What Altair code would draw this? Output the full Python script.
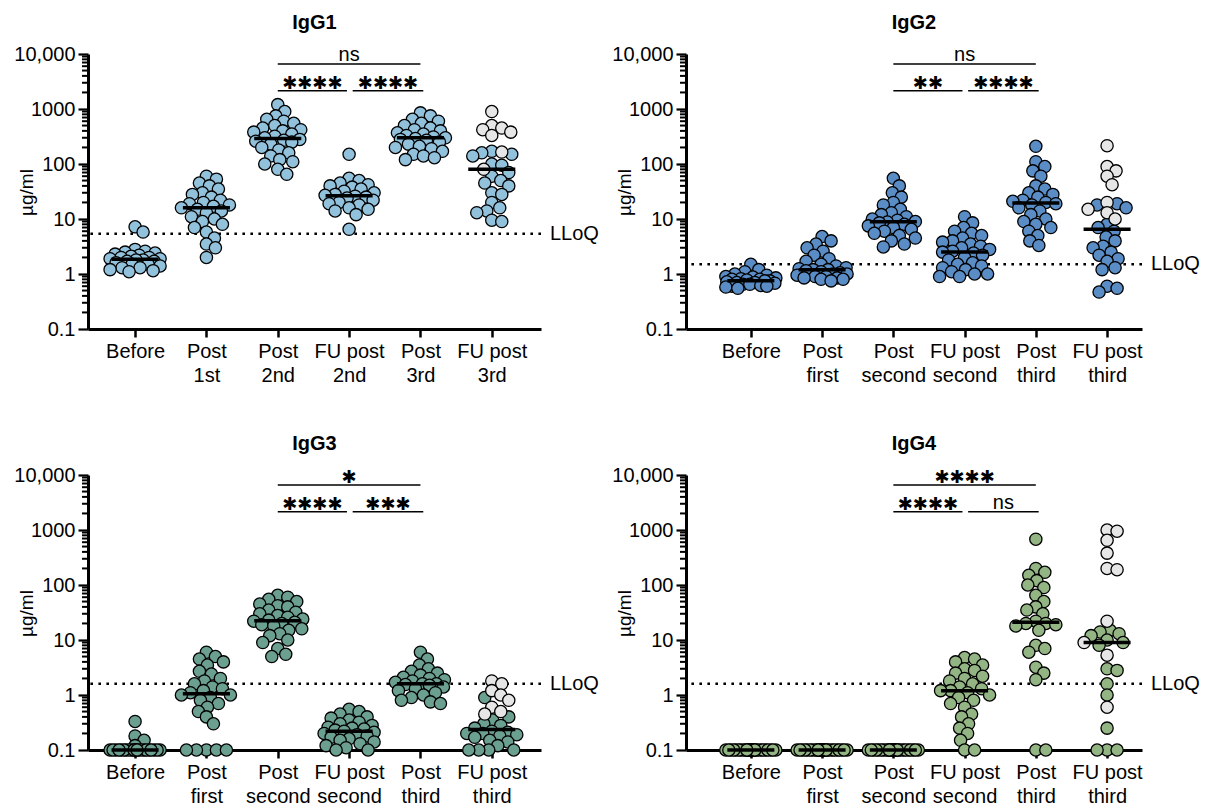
import altair as alt
import numpy as np
import pandas as pd

FONT = "Liberation Sans"

labels_1 = ["Before", "Post|1st", "Post|2nd", "FU post|2nd", "Post|3rd", "FU post|3rd"]
labels_2 = ["Before", "Post|first", "Post|second", "FU post|second", "Post|third", "FU post|third"]

# ---------------- IgG1 ----------------
igg1_before = [7.2, 5.8, 2.8, 2.6, 2.5, 2.4, 2.3, 2.2, 2.1, 2.0, 2.0, 1.9, 1.9, 1.8, 1.8,
               1.7, 1.7, 1.6, 1.5, 1.5, 1.4, 1.3, 1.3, 1.2, 1.15, 1.1]
igg1_post1 = [60, 53, 45, 40, 35, 30, 28, 25, 22, 20, 19, 18, 17, 16, 15, 14, 13, 11, 10,
              9, 8, 7, 5.8, 4.5, 3.5, 3.0, 2.0]
igg1_post2 = [1200, 900, 750, 650, 600, 550, 500, 450, 420, 400, 380, 350, 320, 300, 280,
              270, 260, 250, 230, 200, 180, 160, 140, 120, 110, 100, 80, 65]
igg1_fu2 = [150, 55, 50, 45, 42, 40, 38, 35, 32, 30, 28, 27, 26, 25, 24, 22, 20, 19, 18,
            16, 15, 14, 12, 6.5]
igg1_post3 = [850, 750, 650, 600, 550, 500, 450, 420, 400, 370, 350, 330, 310, 300, 290,
              280, 270, 250, 230, 210, 200, 190, 170, 150, 140, 130, 120]
igg1_fu3 = [170, 160, 150, 140, 100, 95, 70, 60, 50, 45, 40, 30, 28, 20, 16, 14, 13, 9.5, 9]
igg1_fu3_grey = [900, 500, 450, 420, 380, 330, 165, 80]

# ---------------- IgG2 ----------------
igg2_before = [1.5, 1.2, 1.1, 1.0, 0.95, 0.9, 0.88, 0.85, 0.82, 0.8, 0.8, 0.78, 0.75, 0.75,
               0.72, 0.7, 0.7, 0.68, 0.65, 0.65, 0.62, 0.6, 0.6, 0.58, 0.55]
igg2_post1 = [4.8, 4.0, 3.5, 3.0, 2.6, 2.2, 1.9, 1.7, 1.5, 1.4, 1.3, 1.25, 1.2, 1.2, 1.15,
              1.1, 1.05, 1.0, 1.0, 0.95, 0.9, 0.9, 0.85, 0.85, 0.8, 0.8, 0.75]
igg2_post2 = [55, 40, 30, 25, 20, 18, 15, 13, 12, 11, 10, 9.5, 9, 8.8, 8.5, 8, 7.5, 7, 6.5,
              6, 5.5, 5, 4.5, 4, 3.5, 3.1]
igg2_fu2 = [11, 8.5, 7, 6, 5.5, 5, 4.5, 4, 3.8, 3.5, 3.2, 3, 2.8, 2.6, 2.5, 2.4, 2.2, 2.0,
            1.8, 1.6, 1.5, 1.4, 1.3, 1.2, 1.1, 1.0, 1.0, 0.9, 0.9]
igg2_post3 = [210, 110, 90, 75, 60, 40, 35, 30, 28, 25, 22, 21, 20, 19, 18, 16, 14, 12, 10,
              9, 8, 7, 6, 5, 4, 3.3]
igg2_fu3 = [19, 18, 16, 8, 7, 6, 4.7, 4, 3.2, 3, 2.5, 2.2, 1.9, 1.7, 1.3, 1.2, 0.6, 0.55, 0.47]
igg2_fu3_grey = [215, 90, 75, 60, 42, 20, 15, 13, 10]

# ---------------- IgG3 ----------------
igg3_before = [0.33, 0.18, 0.15, 0.12] + [0.1] * 22
igg3_post1 = [6, 5, 4.5, 4, 3.5, 2.7, 2.4, 2.0, 1.8, 1.6, 1.4, 1.3, 1.2, 1.1, 1.0, 1.0, 0.9,
              0.8, 0.7, 0.6, 0.5, 0.4, 0.3, 0.1, 0.1, 0.1, 0.1, 0.1]
igg3_post2 = [65, 60, 55, 50, 45, 42, 40, 35, 32, 30, 28, 26, 24, 23, 22, 21, 20, 19, 18, 16,
              15, 13, 12, 10, 9, 7, 5.5, 5]
igg3_fu2 = [0.55, 0.5, 0.45, 0.4, 0.38, 0.35, 0.32, 0.3, 0.28, 0.26, 0.25, 0.24, 0.23, 0.22,
            0.21, 0.2, 0.19, 0.18, 0.17, 0.16, 0.15, 0.14, 0.13, 0.12, 0.11, 0.1, 0.1]
igg3_post3 = [6.0, 4.5, 3.5, 3.0, 2.7, 2.5, 2.3, 2.1, 2.0, 1.9, 1.8, 1.7, 1.6, 1.6, 1.55, 1.5,
              1.4, 1.3, 1.2, 1.1, 1.0, 0.9, 0.8, 0.75, 0.7]
igg3_fu3 = [0.9, 0.4, 0.35, 0.3, 0.28, 0.25, 0.22, 0.21, 0.2, 0.2, 0.19, 0.18, 0.17, 0.15,
            0.14, 0.12, 0.1, 0.1, 0.1, 0.1]
igg3_fu3_grey = [1.8, 1.6, 1.2, 1.0, 0.8, 0.6, 0.5, 0.45]

# ---------------- IgG4 ----------------
igg4_before = [0.1] * 27
igg4_post1 = [0.1] * 27
igg4_post2 = [0.1] * 27
igg4_fu2 = [4.8, 4.5, 4.0, 3.5, 3.0, 2.8, 2.5, 2.2, 2.0, 1.8, 1.6, 1.4, 1.3, 1.2, 1.2, 1.1,
            1.0, 0.9, 0.8, 0.7, 0.6, 0.45, 0.4, 0.3, 0.25, 0.2, 0.15, 0.1, 0.1]
igg4_post3 = [680, 200, 170, 150, 120, 100, 90, 65, 50, 40, 35, 30, 22, 20, 20, 19, 18, 15,
              8, 7, 6, 3.2, 2.5, 1.9, 0.1, 0.1]
igg4_fu3 = [15, 14, 13, 12, 10, 9, 8, 3, 2.8, 1.6, 1.0, 0.25, 0.1, 0.1, 0.1]
igg4_fu3_grey = [1000, 950, 650, 380, 200, 190, 22, 9, 5.3, 0.6]

lloq_values = {"IgG1": 5.4, "IgG2": 1.5, "IgG3": 1.6, "IgG4": 1.6}
colors = {"IgG1": "#92c1dc", "IgG2": "#5a8dc5", "IgG3": "#6b9f8f", "IgG4": "#93b584"}
grey_fill = "#e6e6e6"

# significance brackets: label, from category, to category, height (ug/ml)
br_label = {
    "IgG1": ["ns", "****", "****"],
    "IgG2": ["ns", "**", "****"],
    "IgG3": ["*", "****", "***"],
    "IgG4": ["****", "****", "ns"],
}
br_x1 = [2.0, 2.0, 3.05]
br_x2 = [4.0, 2.97, 4.04]
br_y = [6600, 2150, 2150]

major_ticks = [0.1, 1, 10, 100, 1000, 10000]
minor_ticks = [m * 10.0 ** e for m in range(2, 10) for e in range(-1, 4)]

H = 275
PX_PER_DECADE = H / 5.0
MINOR_LEN = 6.0  # px
# left panels (IgG1, IgG3) and right panels (IgG2, IgG4) have slightly different x padding
LAYOUT_L = dict(W=453, xmin=-0.66, xmax=5.69)
LAYOUT_R = dict(W=456, xmin=-0.91, xmax=5.49)


def swarm(vals, px_per_unit, d=9.5, half=25.0):
    y = -np.log10(np.asarray(vals, float)) * PX_PER_DECADE
    order = np.argsort(y, kind="stable")
    cands = np.arange(-half, half + 0.01, 1.0)
    cands = cands[np.argsort(np.abs(cands) - 0.001 * np.sign(cands), kind="stable")]
    px, py = [], []
    off = np.zeros(len(y))
    for i in order:
        best, bestc, bestd = None, 0.0, -1.0
        ax, ay = np.array(px), np.array(py)
        for c in cands:
            dist = np.inf if len(ax) == 0 else np.min(np.hypot(ax - c, ay - y[i]))
            if dist >= d:
                best = c
                break
            if dist > bestd:
                bestd, bestc = dist, c
        if best is None:
            best = bestc
        off[i] = best
        px.append(best)
        py.append(y[i])
    return off / px_per_unit


def label_expr(labels):
    arr = "[" + ",".join("'" + l + "'" for l in labels) + "]"
    return f"split({arr}[round(datum.value)], '|')"


one_row = pd.DataFrame({"k": [0]})


def panel(name, labels, groups, grey_last, lay):
    W, XMIN, XMAX = lay["W"], lay["xmin"], lay["xmax"]
    ppu = W / (XMAX - XMIN)
    rows = []
    for gi, vals in enumerate(groups):
        allv = list(vals)
        flags = [False] * len(vals)
        if gi == 5:
            allv += grey_last
            flags += [True] * len(grey_last)
        offs = swarm(allv, ppu)
        for v, f, o in zip(allv, flags, offs):
            rows.append({"idx": gi, "x": gi + o, "value": v, "grey": f})
    df = pd.DataFrame(rows)

    xs = alt.Scale(domain=[XMIN, XMAX], nice=False, zero=False)
    ys = alt.Scale(type="log", domain=[0.1, 10000], nice=False)

    xaxis = alt.Axis(values=[0, 1, 2, 3, 4, 5], labelExpr=label_expr(labels), title=None,
                     grid=False, domainWidth=3, domainColor="black", tickColor="black",
                     tickWidth=2.5, tickSize=8, labelFontSize=20, labelFont=FONT,
                     labelColor="black", labelPadding=4, labelLineHeight=24,
                     labelFlush=False, labelOverlap=False, tickCount=50)
    ylab = ("datum.value >= 9999 ? '10,000' : datum.value >= 999 ? '1000' : "
            "datum.value >= 99 ? '100' : datum.value >= 9.9 ? '10' : "
            "datum.value >= 0.99 ? '1' : '0.1'")
    yaxis = alt.Axis(values=major_ticks, labelExpr=ylab, title="µg/ml", orient="left",
                     grid=False, domainWidth=3, domainColor="black", tickColor="black",
                     tickWidth=2.2, tickSize=10, tickCount=50,
                     labelFontSize=20, labelFont=FONT, labelColor="black", labelPadding=3,
                     titleFont=FONT, titleFontSize=19, titleFontWeight="normal",
                     titleColor="black", titleX=-62, titleY=138, titleAngle=270,
                     titleBaseline="middle", titleAlign="center",
                     labelOverlap=False, labelFlush=False)

    # minor log ticks on the y axis: short horizontal rules just left of the axis line
    minor_df = pd.DataFrame({"mt": minor_ticks, "xa": XMIN, "xb": XMIN - MINOR_LEN / ppu})
    minor = alt.Chart(minor_df).mark_rule(color="black", strokeWidth=2, opacity=1).encode(
        x=alt.X("xa:Q", scale=xs, axis=xaxis),
        x2="xb:Q",
        y=alt.Y("mt:Q", scale=ys, axis=yaxis),
    )

    pts = alt.Chart(df).mark_circle(size=150, stroke="black", strokeWidth=1.3,
                                    opacity=1).encode(
        x=alt.X("x:Q", scale=xs, axis=xaxis),
        y=alt.Y("value:Q", scale=ys, axis=yaxis),
        color=alt.condition("datum.grey", alt.value(grey_fill), alt.value(colors[name])),
        order=alt.Order("grey:N"),
    )

    med = alt.Chart(df).transform_aggregate(
        med="median(value)", groupby=["idx"]
    ).transform_calculate(
        xa="datum.idx - 0.33", xb="datum.idx + 0.33"
    ).mark_rule(color="black", strokeWidth=3.5).encode(
        x=alt.X("xa:Q", scale=xs, axis=xaxis),
        x2="xb:Q",
        y=alt.Y("med:Q", scale=ys, axis=yaxis),
    )

    lloq = lloq_values[name]
    lrule = alt.Chart(one_row).mark_rule(color="black", strokeWidth=2.6,
                                         strokeDash=[2.6, 5.4]).encode(
        y=alt.datum(lloq, scale=ys, axis=yaxis)
    )
    ltext = alt.Chart(one_row).mark_text(text="LLoQ", align="left", baseline="middle", dx=9,
                                         font=FONT, fontSize=20, color="black").encode(
        x=alt.datum(XMAX, scale=xs, axis=xaxis),
        y=alt.datum(lloq, scale=ys, axis=yaxis),
    )

    bdf = pd.DataFrame({"label": br_label[name], "x1": br_x1, "x2": br_x2, "y": br_y})
    bdf["xm"] = (bdf["x1"] + bdf["x2"]) / 2
    bdf["stars"] = bdf["label"].str.replace("*", "\u2731", regex=False)
    brules = alt.Chart(bdf).mark_rule(color="black", strokeWidth=1.6).encode(
        x=alt.X("x1:Q", scale=xs, axis=xaxis), x2="x2:Q",
        y=alt.Y("y:Q", scale=ys, axis=yaxis),
    )
    bstars = alt.Chart(bdf).transform_filter("datum.label != 'ns'").mark_text(
        baseline="alphabetic", dy=-2, font="DejaVu Sans", fontSize=18, color="black"
    ).encode(
        x=alt.X("xm:Q", scale=xs, axis=xaxis), y=alt.Y("y:Q", scale=ys, axis=yaxis),
        text="stars:N",
    )
    bns = alt.Chart(bdf).transform_filter("datum.label == 'ns'").mark_text(
        baseline="alphabetic", dy=-3, font=FONT, fontSize=20, color="black"
    ).encode(
        x=alt.X("xm:Q", scale=xs, axis=xaxis), y=alt.Y("y:Q", scale=ys, axis=yaxis),
        text="label:N",
    )

    return alt.layer(lrule, minor, pts, med, ltext, brules, bstars, bns).properties(
        width=W, height=H,
        title=alt.TitleParams(name, font=FONT, fontSize=20, fontWeight="bold",
                              color="black", offset=11),
    )


p1 = panel("IgG1", labels_1, [igg1_before, igg1_post1, igg1_post2, igg1_fu2, igg1_post3, igg1_fu3],
           igg1_fu3_grey, LAYOUT_L)
p2 = panel("IgG2", labels_2, [igg2_before, igg2_post1, igg2_post2, igg2_fu2, igg2_post3, igg2_fu3],
           igg2_fu3_grey, LAYOUT_R)
p3 = panel("IgG3", labels_2, [igg3_before, igg3_post1, igg3_post2, igg3_fu2, igg3_post3, igg3_fu3],
           igg3_fu3_grey, LAYOUT_L)
p4 = panel("IgG4", labels_2, [igg4_before, igg4_post1, igg4_post2, igg4_fu2, igg4_post3, igg4_fu3],
           igg4_fu3_grey, LAYOUT_R)

chart = alt.vconcat(
    alt.hconcat(p1, p2, spacing=12),
    alt.hconcat(p3, p4, spacing=12),
    spacing=49,
).properties(
    padding={"left": 5, "top": 5, "right": 5, "bottom": 5},
    background="white",
).configure_view(stroke=None)

chart.save("out.html", embed_options={"renderer": "svg", "actions": False})
